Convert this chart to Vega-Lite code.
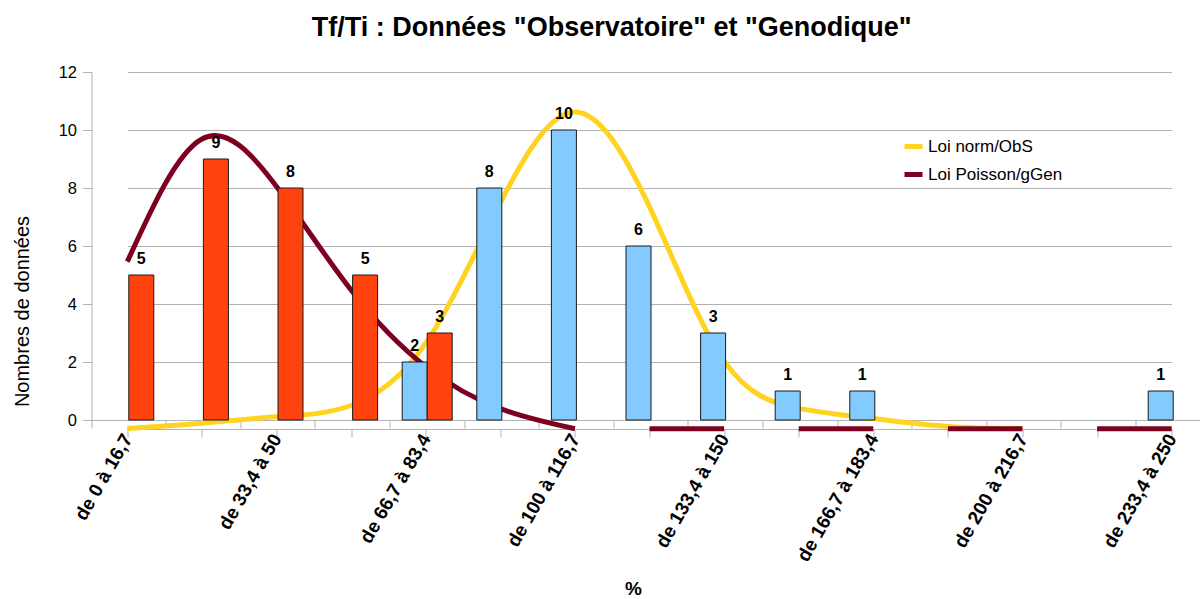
{
  "$schema": "https://vega.github.io/schema/vega-lite/v6.json",
  "autosize": {"type": "none"},
  "width": 1108.5,
  "height": 348,
  "padding": {"left": 91.5, "top": 72, "right": 0, "bottom": 179},
  "background": "white",
  "config": {"font": "Liberation Sans", "view": {"stroke": null}},
  "title": {
    "text": "Tf/Ti : Données \"Observatoire\" et \"Genodique\"",
    "fontSize": 27,
    "fontWeight": "bold",
    "color": "black",
    "anchor": "middle",
    "baseline": "alphabetic",
    "dx": -34,
    "offset": 1
  },
  "datasets": {
    "bars": [
      {"cat": "de 0 à 16,7", "serie": "Genodique", "n": 5},
      {"cat": "de 16,7 à 33,4", "serie": "Genodique", "n": 9},
      {"cat": "de 33,4 à 50", "serie": "Genodique", "n": 8},
      {"cat": "de 50 à 66,7", "serie": "Genodique", "n": 5},
      {"cat": "de 66,7 à 83,4", "serie": "Observatoire", "n": 2},
      {"cat": "de 66,7 à 83,4", "serie": "Genodique", "n": 3},
      {"cat": "de 83,4 à 100", "serie": "Observatoire", "n": 8},
      {"cat": "de 100 à 116,7", "serie": "Observatoire", "n": 10},
      {"cat": "de 116,7 à 133,4", "serie": "Observatoire", "n": 6},
      {"cat": "de 133,4 à 150", "serie": "Observatoire", "n": 3},
      {"cat": "de 150 à 166,7", "serie": "Observatoire", "n": 1},
      {"cat": "de 166,7 à 183,4", "serie": "Observatoire", "n": 1},
      {"cat": "de 233,4 à 250", "serie": "Observatoire", "n": 1}
    ],
    "curves": [
      {"loi": "Loi norm/ObS", "seg": "n0", "pos": 1, "v": -0.29},
      {"loi": "Loi norm/ObS", "seg": "n0", "pos": 2, "v": -0.11},
      {"loi": "Loi norm/ObS", "seg": "n0", "pos": 3, "v": 0.11},
      {"loi": "Loi norm/ObS", "seg": "n0", "pos": 4, "v": 0.5},
      {"loi": "Loi norm/ObS", "seg": "n0", "pos": 5, "v": 2.65},
      {"loi": "Loi norm/ObS", "seg": "n0", "pos": 6, "v": 7.49},
      {"loi": "Loi norm/ObS", "seg": "n0", "pos": 7, "v": 10.62},
      {"loi": "Loi norm/ObS", "seg": "n0", "pos": 8, "v": 7.35},
      {"loi": "Loi norm/ObS", "seg": "n0", "pos": 9, "v": 2.04},
      {"loi": "Loi norm/ObS", "seg": "n0", "pos": 10, "v": 0.4},
      {"loi": "Loi norm/ObS", "seg": "n0", "pos": 11, "v": 0.05},
      {"loi": "Loi norm/ObS", "seg": "n0", "pos": 12, "v": -0.22},
      {"loi": "Loi norm/ObS", "seg": "n0", "pos": 13, "v": -0.3},
      {"loi": "Loi Poisson/gGen", "seg": "p0", "pos": 1, "v": 5.46},
      {"loi": "Loi Poisson/gGen", "seg": "p0", "pos": 2, "v": 9.69},
      {"loi": "Loi Poisson/gGen", "seg": "p0", "pos": 3, "v": 8.05},
      {"loi": "Loi Poisson/gGen", "seg": "p0", "pos": 4, "v": 4.48},
      {"loi": "Loi Poisson/gGen", "seg": "p0", "pos": 5, "v": 1.84},
      {"loi": "Loi Poisson/gGen", "seg": "p0", "pos": 6, "v": 0.39},
      {"loi": "Loi Poisson/gGen", "seg": "p0", "pos": 7, "v": -0.3},
      {"loi": "Loi Poisson/gGen", "seg": "p1", "pos": 8, "v": -0.3},
      {"loi": "Loi Poisson/gGen", "seg": "p1", "pos": 9, "v": -0.3},
      {"loi": "Loi Poisson/gGen", "seg": "p2", "pos": 10, "v": -0.3},
      {"loi": "Loi Poisson/gGen", "seg": "p2", "pos": 11, "v": -0.3},
      {"loi": "Loi Poisson/gGen", "seg": "p3", "pos": 12, "v": -0.3},
      {"loi": "Loi Poisson/gGen", "seg": "p3", "pos": 13, "v": -0.3},
      {"loi": "Loi Poisson/gGen", "seg": "p4", "pos": 14, "v": -0.3},
      {"loi": "Loi Poisson/gGen", "seg": "p4", "pos": 15, "v": -0.3}
    ]
  },
  "layer": [
    {
      "data": {"name": "curves"},
      "mark": {"type": "line", "strokeWidth": 5, "interpolate": "natural", "clip": false},
      "encoding": {
        "x": {
          "field": "pos",
          "type": "quantitative",
          "scale": {"domain": [1, 15], "range": [35.8, 1080.2], "nice": false, "zero": false},
          "axis": {
            "orient": "bottom",
            "offset": 9,
            "values": [1, 2, 3, 4, 5, 6, 7, 8, 9, 10, 11, 12, 13, 14, 15],
            "labelExpr": "datum.value % 2 == 1 ? ['de 0 à 16,7','de 16,7 à 33,4','de 33,4 à 50','de 50 à 66,7','de 66,7 à 83,4','de 83,4 à 100','de 100 à 116,7','de 116,7 à 133,4','de 133,4 à 150','de 150 à 166,7','de 166,7 à 183,4','de 183,4 à 200','de 200 à 216,7','de 216,7 à 233,4','de 233,4 à 250'][datum.value - 1] : ''",
            "labelAngle": -60,
            "labelFontSize": 19,
            "labelFontWeight": "bold",
            "labelColor": "black",
            "labelPadding": -2,
            "labelOverlap": false,
            "labelBound": false,
            "tickSize": 8,
            "tickColor": "#b3b3b3",
            "domainColor": "#b3b3b3",
            "grid": false,
            "title": "%",
            "titleFontSize": 19,
            "titleFontWeight": "bold",
            "titleColor": "black",
            "titleX": 541.5,
            "titleY": 165,
            "titleAlign": "center",
            "titleBaseline": "alphabetic"
          }
        },
        "y": {"field": "v", "type": "quantitative"},
        "color": {
          "field": "loi",
          "type": "nominal",
          "scale": {"domain": ["Loi norm/ObS", "Loi Poisson/gGen"], "range": ["#ffd320", "#7e0021"]},
          "legend": {
            "orient": "none",
            "legendX": 810.5,
            "legendY": 63,
            "title": null,
            "symbolType": "stroke",
            "symbolStrokeWidth": 5,
            "symbolSize": 324,
            "labelFontSize": 17,
            "labelColor": "black",
            "labelOffset": 3,
            "rowPadding": 6,
            "padding": 0
          }
        },
        "detail": {"field": "seg", "type": "nominal"}
      }
    },
    {
      "data": {"name": "bars"},
      "encoding": {
        "x": {
          "field": "cat",
          "type": "nominal",
          "sort": null,
          "scale": {
            "domain": ["de 0 à 16,7", "de 16,7 à 33,4", "de 33,4 à 50", "de 50 à 66,7", "de 66,7 à 83,4", "de 83,4 à 100", "de 100 à 116,7", "de 116,7 à 133,4", "de 133,4 à 150", "de 150 à 166,7", "de 166,7 à 183,4", "de 183,4 à 200", "de 200 à 216,7", "de 216,7 à 233,4", "de 233,4 à 250"],
            "range": [0, 1119],
            "paddingInner": 0,
            "paddingOuter": 0
          },
          "axis": {
            "orient": "bottom",
            "labels": false,
            "title": null,
            "bandPosition": 0,
            "tickSize": 8,
            "tickColor": "#b3b3b3",
            "domainColor": "#b3b3b3",
            "grid": false
          }
        },
        "xOffset": {
          "field": "serie",
          "type": "nominal",
          "scale": {"domain": ["Observatoire", "Genodique"], "paddingInner": 0, "paddingOuter": 0.492}
        },
        "y": {
          "field": "n",
          "type": "quantitative",
          "scale": {"domain": [0, 12], "nice": false},
          "axis": {
            "values": [0, 2, 4, 6, 8, 10, 12],
            "grid": true,
            "gridColor": "#b3b3b3",
            "domainColor": "#b3b3b3",
            "tickColor": "#b3b3b3",
            "tickSize": 9,
            "labelFontSize": 16.5,
            "labelColor": "black",
            "labelPadding": 6,
            "title": "Nombres de données",
            "titleFontSize": 20,
            "titleFontWeight": "normal",
            "titleColor": "black",
            "titleAngle": -90,
            "titleX": -63.5,
            "titleY": 239,
            "titleAlign": "center",
            "titleBaseline": "alphabetic"
          }
        }
      },
      "layer": [
        {
          "mark": {"type": "bar", "stroke": "#1a1a1a", "strokeWidth": 1},
          "encoding": {
            "color": {
              "field": "serie",
              "type": "nominal",
              "scale": {"domain": ["Observatoire", "Genodique"], "range": ["#83caff", "#ff420e"]},
              "legend": null
            }
          }
        },
        {
          "mark": {"type": "text", "fontSize": 16, "fontWeight": "bold", "dy": -11, "baseline": "alphabetic", "color": "black"},
          "encoding": {"text": {"field": "n", "type": "quantitative"}}
        }
      ]
    }
  ],
  "resolve": {"scale": {"x": "independent", "color": "independent"}, "axis": {"x": "independent"}}
}
